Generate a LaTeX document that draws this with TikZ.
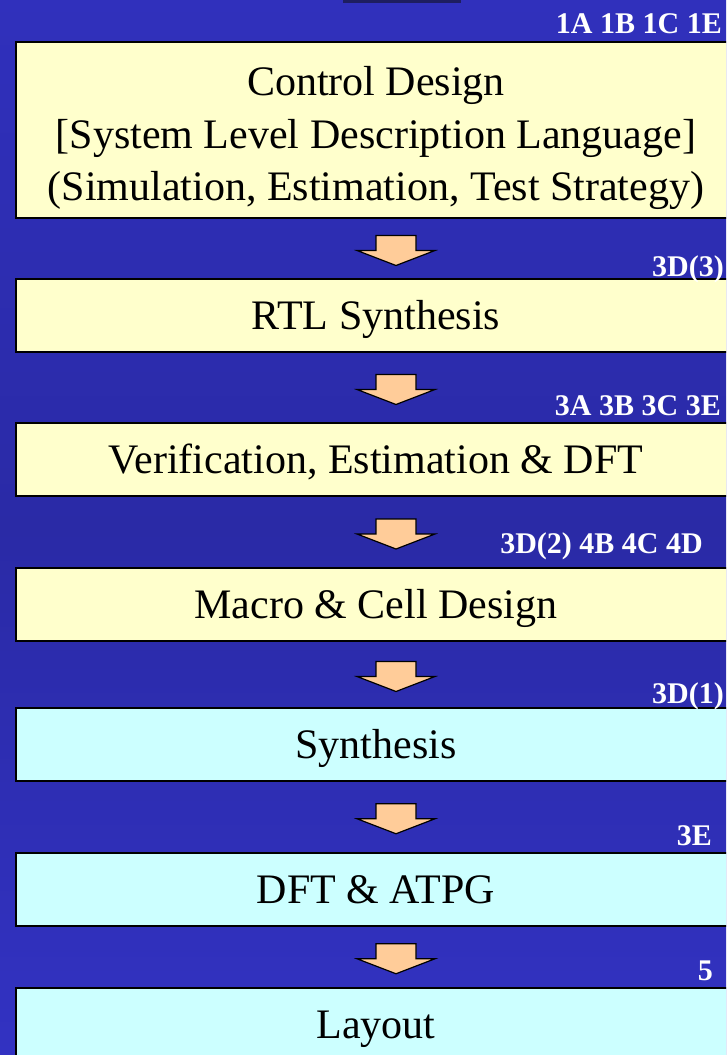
\documentclass[tikz,border=0pt]{standalone}
\usepackage{fontspec}
\setmainfont{Liberation Serif}
\usetikzlibrary{calc}
\definecolor{bgtop}{HTML}{3030BC}
\definecolor{bgmid}{HTML}{2A2AA6}
\definecolor{bgbot}{HTML}{3232C2}
\definecolor{boxyellow}{HTML}{FFFFCC}
\definecolor{boxcyan}{HTML}{CCFFFF}
\definecolor{arrowfill}{HTML}{FFCC99}
\definecolor{topbar}{HTML}{1E1E60}
\tikzset{
  stagebox/.style={draw=black, line width=2pt, minimum width=720pt, minimum height=73pt,
    inner sep=0pt, font=\fontsize{42}{52.5}\selectfont, text height=28pt, text depth=0pt},
  ystage/.style={stagebox, fill=boxyellow},
  cstage/.style={stagebox, fill=boxcyan},
  stagetext/.style={inner sep=0pt, align=center, font=\fontsize{42}{52.5}\selectfont},
  reflabel/.style={anchor=base east, inner sep=0pt, text=white,
    font=\fontsize{30}{36}\selectfont\bfseries},
  blockarrow/.style={draw=black, line width=1.2pt, fill=arrowfill, line join=miter},
}
\newcommand\stagearrow[3]{%
  \coordinate (#1) at ($(#2.south)!0.5!(#3.north)+(20,2)$);
  \draw[blockarrow] (#1) ++(-20,-15) -- ++(40,0) -- ++(0,15) -- ++(19,0)
    -- ++(-39,15) -- ++(-39,-15) -- ++(19,0) -- cycle;}
\begin{document}
\begin{tikzpicture}[x=1pt,y=-1pt]
\path[use as bounding box, clip] (0,0) rectangle (726,1055);
\shade[top color=bgtop, bottom color=bgbot, middle color=bgmid] (0,0) rectangle (726,1055);
\fill[topbar] (343,-5) rectangle (461,2.5);

\node[ystage, minimum height=176pt] (b1) at (376,130) {};
\node[stagetext, anchor=north] (t1) at (376,66.3)
  {Control Design\\ {[System Level Description Language]}\\ (Simulation, Estimation, Test Strategy)};
\node[ystage] (b2) at (376,315.5) {RTL Synthesis};
\node[ystage] (b3) at (376,459.5) {Verification, Estimation \& DFT};
\node[ystage] (b4) at (376,604.5) {Macro \& Cell Design};
\node[cstage] (b5) at (376,744.5) {Synthesis};
\node[cstage] (b6) at (376,889) {DFT \& ATPG};
\node[cstage] (b7) at (376,1024.5) {Layout};

\stagearrow{a1}{b1}{b2}
\stagearrow{a2}{b2}{b3}
\stagearrow{a3}{b3}{b4}
\stagearrow{a4}{b4}{b5}
\stagearrow{a5}{b5}{b6}
\stagearrow{a6}{b6}{b7}

\node[reflabel] (l1) at (722,33) {1A 1B 1C 1E};
\node[reflabel] (l2) at (724,276) {3D(3)};
\node[reflabel] (l3) at (721,415) {3A 3B 3C 3E};
\node[reflabel] (l4) at (703,553) {3D(2) 4B 4C 4D};
\node[reflabel] (l5) at (724,703) {3D(1)};
\node[reflabel] (l6) at (712,845) {3E};
\node[reflabel] (l7) at (713,980) {5};
\end{tikzpicture}
\end{document}
